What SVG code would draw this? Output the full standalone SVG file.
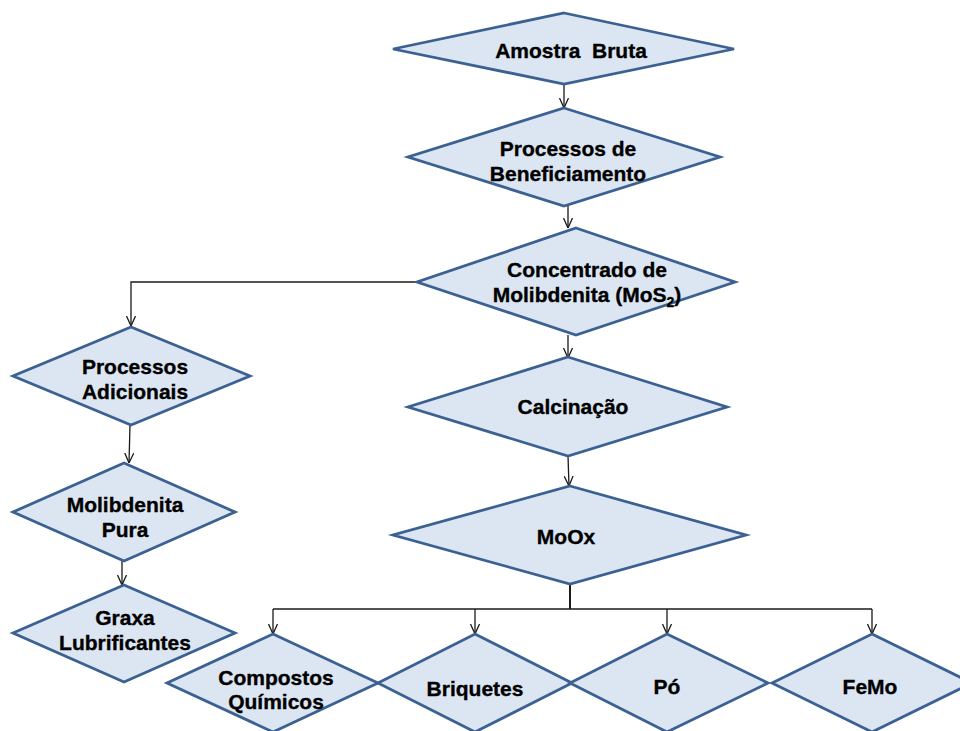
<svg xmlns="http://www.w3.org/2000/svg" width="960" height="731" viewBox="0 0 960 731">
<defs>
<marker id="arr" viewBox="0 0 10 10" refX="10" refY="5" markerWidth="10" markerHeight="10" markerUnits="userSpaceOnUse" orient="auto">
<path d="M0,0.5 L10,5 L0,9.5" fill="none" stroke="#1a1a1a" stroke-width="1.3"/>
</marker>
<style>
.d{fill:#dce6f2;stroke:#3b6193;stroke-width:2.8;stroke-linejoin:miter}
.t{font-family:"Liberation Sans",Arial,sans-serif;font-weight:bold;font-size:21px;fill:#000;stroke:#000;stroke-width:0.35;text-anchor:middle}
.c{fill:none;stroke:#1a1a1a;stroke-width:1.3}
</style>
</defs>
<rect width="960" height="731" fill="#fff"/>
<g id="connectors">
<path class="c" d="M564,84 L564,108" marker-end="url(#arr)"/>
<path class="c" d="M568,206 L568,228" marker-end="url(#arr)"/>
<path class="c" d="M568,335 L568,358" marker-end="url(#arr)"/>
<path class="c" d="M568,456 L569,486" marker-end="url(#arr)"/>
<path class="c" d="M417,282 L131,282 L131,326" marker-end="url(#arr)"/>
<path class="c" d="M130,425 L129,463" marker-end="url(#arr)"/>
<path class="c" d="M122,561 L122,585" marker-end="url(#arr)"/>
<path class="c" d="M570,584 L570,609" style="stroke-width:2"/>
<path class="c" d="M273,609 L872,609"/>
<path class="c" d="M273,609 L273,634" marker-end="url(#arr)"/>
<path class="c" d="M475,609 L475,634" marker-end="url(#arr)"/>
<path class="c" d="M667,609 L667,634" marker-end="url(#arr)"/>
<path class="c" d="M872,609 L872,634" marker-end="url(#arr)"/>
</g>
<g id="amostra">
<polygon class="d" points="564,13 734,49 564,84 393,49"/>
<text class="t" x="571" y="58" xml:space="preserve">Amostra  Bruta</text>
</g>
<g id="beneficiamento">
<polygon class="d" points="564,108 720,157 564,206 408,157"/>
<text class="t" x="568" y="156">Processos de</text>
<text class="t" x="568" y="181">Beneficiamento</text>
</g>
<g id="concentrado">
<polygon class="d" points="576,228 735,282 576,335 417,282"/>
<text class="t" x="587" y="277">Concentrado de</text>
<text class="t" x="587" y="302">Molibdenita (MoS<tspan font-size="14" dy="5">2</tspan><tspan dy="-5">)</tspan></text>
</g>
<g id="calcinacao">
<polygon class="d" points="568,357 727,407 568,456 408,407"/>
<text class="t" x="573" y="414">Calcinação</text>
</g>
<g id="moox">
<polygon class="d" points="570,486 746,535 570,584 393,535"/>
<text class="t" x="566" y="544">MoOx</text>
</g>
<g id="adicionais">
<polygon class="d" points="131,327 250,376 131,425 13,376"/>
<text class="t" x="135" y="374">Processos</text>
<text class="t" x="135" y="399">Adicionais</text>
</g>
<g id="pura">
<polygon class="d" points="124,463 235,512 124,561 13,512"/>
<text class="t" x="125" y="512">Molibdenita</text>
<text class="t" x="125" y="537">Pura</text>
</g>
<g id="graxa">
<polygon class="d" points="124,585 235,633 124,682 13,633"/>
<text class="t" x="125" y="625">Graxa</text>
<text class="t" x="125" y="650">Lubrificantes</text>
</g>
<g id="compostos">
<polygon class="d" points="273,634 378,683 273,732 167,683"/>
<text class="t" x="276" y="685">Compostos</text>
<text class="t" x="276" y="709">Químicos</text>
</g>
<g id="briquetes">
<polygon class="d" points="475,634 572,683 475,732 378,683"/>
<text class="t" x="475" y="696">Briquetes</text>
</g>
<g id="po">
<polygon class="d" points="667,634 768,683 667,732 570,683"/>
<text class="t" x="667" y="694">Pó</text>
</g>
<g id="femo">
<polygon class="d" points="872,634 972,683 872,732 772,683"/>
<text class="t" x="870" y="694">FeMo</text>
</g>
</svg>
